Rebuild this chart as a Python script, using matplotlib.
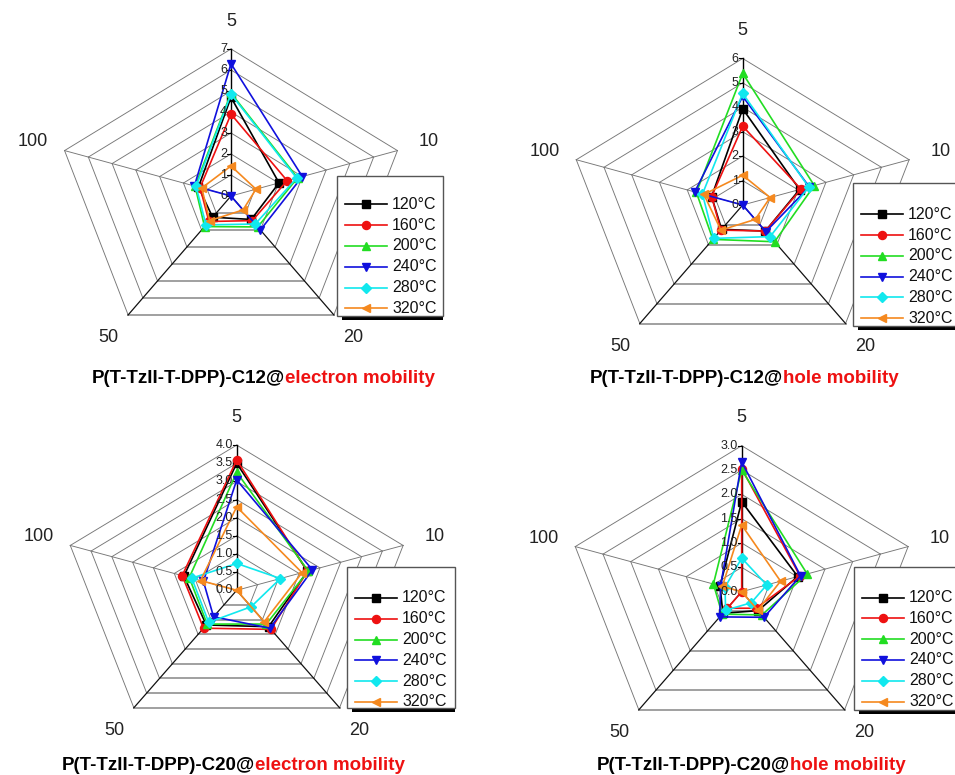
import numpy as np
import matplotlib
matplotlib.use('Agg')
import matplotlib.pyplot as plt
from matplotlib.patches import Rectangle
from matplotlib.lines import Line2D

plt.rcParams['font.family'] = ['Liberation Sans', 'DejaVu Sans']

# ---------------- data ----------------
spoke_labels = ['5', '10', '20', '50', '100']
temperatures = ['120°C', '160°C', '200°C', '240°C', '280°C', '320°C']

# rows: 120, 160, 200, 240, 280, 320 °C ; columns: 5, 10, 20, 50, 100
c12_electron = [
    [4.70, 2.02, 1.38, 1.25, 1.37],
    [3.90, 2.36, 1.45, 1.50, 1.30],
    [4.90, 2.80, 1.82, 1.80, 1.51],
    [6.30, 3.00, 2.00, 0.00, 1.54],
    [4.85, 2.76, 1.65, 1.70, 1.47],
    [1.43, 1.05, 0.82, 1.45, 1.23],
]
c12_hole = [
    [3.94, 2.05, 1.32, 1.23, 1.12],
    [3.23, 2.10, 1.32, 1.27, 1.12],
    [5.39, 2.58, 1.86, 1.74, 1.67],
    [4.45, 2.40, 1.35, 0.00, 1.73],
    [4.57, 2.38, 1.60, 1.69, 1.45],
    [1.22, 0.99, 0.73, 1.27, 1.40],
]
c20_electron = [
    [3.50, 1.70, 1.24, 1.18, 1.27],
    [3.59, 1.70, 1.33, 1.29, 1.31],
    [3.25, 1.72, 1.15, 1.15, 1.14],
    [3.04, 1.82, 1.29, 0.90, 0.80],
    [0.74, 1.05, 0.56, 1.09, 1.08],
    [2.30, 1.57, 1.07, 0.00, 0.87],
]
c20_hole = [
    [1.85, 1.01, 0.48, 0.55, 0.39],
    [2.53, 1.05, 0.42, 0.42, 0.00],
    [2.50, 1.18, 0.59, 0.57, 0.51],
    [2.67, 1.06, 0.65, 0.64, 0.38],
    [0.69, 0.45, 0.28, 0.47, 0.30],
    [1.37, 0.70, 0.47, 0.00, 0.35],
]

c12_electron_ticks = ['0', '1', '2', '3', '4', '5', '6', '7']
c12_hole_ticks = ['0', '1', '2', '3', '4', '5', '6']
c20_electron_ticks = ['0.0', '0.5', '1.0', '1.5', '2.0', '2.5', '3.0', '3.5', '4.0']
c20_hole_ticks = ['0.0', '0.5', '1.0', '1.5', '2.0', '2.5', '3.0']

title_prefixes = ['P(T-TzII-T-DPP)-C12@', 'P(T-TzII-T-DPP)-C12@',
                  'P(T-TzII-T-DPP)-C20@', 'P(T-TzII-T-DPP)-C20@']
title_suffixes = ['electron mobility', 'hole mobility',
                  'electron mobility', 'hole mobility']

# ---------------- style ----------------
series_colors = ['#000000', '#ee1111', '#22dd22', '#1010dd', '#11e8ee', '#f5891f']
series_markers = ['s', 'o', '^', 'v', 'D', '<']
series_msize = [5.2, 5.8, 5.8, 5.8, 5.0, 5.8]

W, H = 955, 775
fig = plt.figure(figsize=(W / 100, H / 100), dpi=100)


def fx(x):
    return x / W


def fy(y):
    return 1 - y / H


theta = 2 * np.pi * np.arange(5) / 5
su, cv = np.sin(theta), np.cos(theta)

panels = [
    dict(data=c12_electron, ticks=c12_electron_ticks, cx=231, cy=196, ry=147,
         leg=(337, 176, 443, 316), leg_y=204.3,
         title_x=92, title_y=378),
    dict(data=c12_hole, ticks=c12_hole_ticks, cx=742.7, cy=205, ry=146.5,
         leg=(853, 183, 962, 326), leg_y=214.3,
         title_x=590, title_y=378),
    dict(data=c20_electron, ticks=c20_electron_ticks, cx=236.7, cy=590.3, ry=145.2,
         leg=(347, 567, 455, 708), leg_y=598.0,
         title_x=62, title_y=765),
    dict(data=c20_hole, ticks=c20_hole_ticks, cx=741.7, cy=591.7, ry=146,
         leg=(854, 567, 962, 710), leg_y=597.5,
         title_x=597, title_y=765),
]
RX = 175.0

for i, p in enumerate(panels):
    cx, cy, ry = p['cx'], p['cy'], p['ry']
    ax = fig.add_axes([fx(cx - RX), fy(cy + ry), 2 * RX / W, 2 * ry / H])
    ax.set_xlim(-1, 1)
    ax.set_ylim(-1, 1)
    ax.axis('off')
    tick_vals = [float(t) for t in p['ticks']]
    rmax = tick_vals[-1]

    # rings
    for t in tick_vals[1:]:
        r = t / rmax
        for k in range(5):
            k2 = (k + 1) % 5
            if k == 2:
                col, lw = '#a0a0a0', 1.4
            else:
                col, lw = '#767676', 0.65
            ax.plot([r * su[k], r * su[k2]], [r * cv[k], r * cv[k2]],
                    color=col, lw=lw, zorder=1, clip_on=False)
    # spokes
    for k in range(5):
        if k == 0:
            col, lw = '#000000', 1.0
        elif k in (2, 3):
            col, lw = '#111111', 0.9
        else:
            col, lw = '#767676', 0.65
        ax.plot([0, su[k]], [0, cv[k]], color=col, lw=lw, zorder=1.5, clip_on=False)

    # radial ticks and labels
    for t, lab in zip(tick_vals, p['ticks']):
        r = t / rmax
        ax.plot([-4 / RX, 0], [r, r], color='black', lw=0.8, zorder=2, clip_on=False)
        ax.annotate(lab, xy=(0, r), xytext=(-4, 0), textcoords='offset pixels',
                    ha='right', va='center', fontsize=9, color='#222222', zorder=6)

    # spoke labels
    for k, lab in enumerate(spoke_labels):
        ax.text(1.19 * su[k], 1.19 * cv[k], lab, ha='center', va='center',
                fontsize=13, color='#222222')

    # series
    for j, vals in enumerate(p['data']):
        r = np.array(vals) / rmax
        xs = np.append(r * su, r[0] * su[0])
        ys = np.append(r * cv, r[0] * cv[0])
        ax.plot(xs, ys, color=series_colors[j], lw=1.2, marker=series_markers[j],
                ms=series_msize[j], markevery=list(range(5)), zorder=3 + j * 0.1,
                clip_on=False)

    # legend (manual box)
    x0, y0, x1, y1 = p['leg']
    fig.patches.append(Rectangle((fx(x0 + 5), fy(y1 + 4)), (x1 - x0 - 5) / W, 4 / H,
                                 transform=fig.transFigure, facecolor='black',
                                 edgecolor='none', zorder=8))
    fig.patches.append(Rectangle((fx(x0), fy(y1)), (x1 - x0) / W, (y1 - y0) / H,
                                 transform=fig.transFigure, facecolor='white',
                                 edgecolor='#555555', lw=1.0, zorder=9))
    for j, lab in enumerate(temperatures):
        yy = p['leg_y'] + j * 20.8
        fig.lines.append(Line2D([fx(x0 + 8), fx(x0 + 50)], [fy(yy), fy(yy)],
                                transform=fig.transFigure, color=series_colors[j],
                                lw=1.2, zorder=10))
        fig.lines.append(Line2D([fx(x0 + 29)], [fy(yy)], transform=fig.transFigure,
                                color=series_colors[j], marker=series_markers[j],
                                ms=series_msize[j], lw=0, zorder=10))
        fig.text(fx(x0 + 55), fy(yy), lab, ha='left', va='center', fontsize=11.5,
                 color='#111111', zorder=11)

    # title
    t1 = fig.text(fx(p['title_x']), fy(p['title_y']), title_prefixes[i],
                  ha='left', va='center', fontsize=13.5, fontweight='bold',
                  color='black')
    ax.annotate(title_suffixes[i], xy=(1, 0), xycoords=t1, ha='left', va='bottom',
                fontsize=13.5, fontweight='bold', color='#ee1111',
                annotation_clip=False)

fig.savefig('out.png', dpi=100)
